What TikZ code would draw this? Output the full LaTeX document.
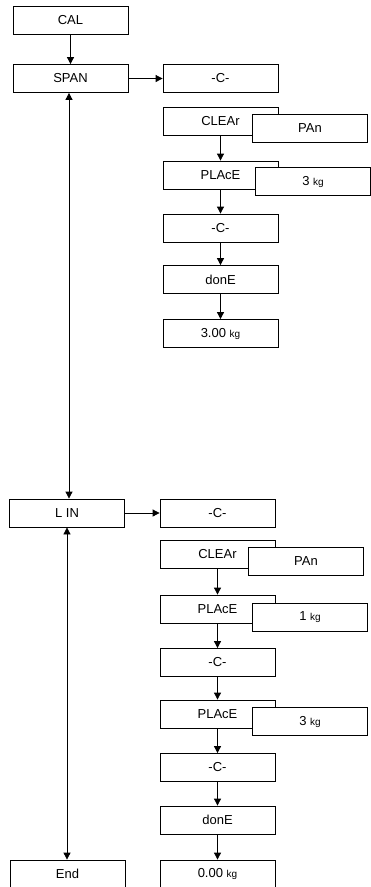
\documentclass[tikz,border=0pt]{standalone}
\usepackage{fontspec}
\setmainfont{Liberation Sans}
\usetikzlibrary{arrows.meta, positioning}
\tikzset{
  every picture/.style={line width=0.8pt},
  disp/.style={draw, fill=white, minimum width=115pt, minimum height=28pt, inner sep=0pt, font=\fontsize{13}{15}\selectfont},
  arrow/.style={-{Triangle[length=7pt, width=7pt]}},
  twoway/.style={{Triangle[length=7pt, width=7pt]}-{Triangle[length=7pt, width=7pt]}},
}
\newcommand{\kg}{\ \fontsize{10}{12}\selectfont kg}
\begin{document}
\begin{tikzpicture}[x=1pt, y=-1pt]
  \useasboundingbox (0,0) rectangle (371,887);
  % left column
  \node[disp] (cal) at (70.5,20) {CAL};
  \node[disp] (span) at (70.5,78.5) {SPAN};
  \node[disp] (lin) at (67,513) {L IN};
  \node[disp] (end) at (67.5,874) {End};
  % span sequence
  \node[disp] (sc1) at (220.5,78.5) {-C-};
  \node[disp] (sclear) at (220.5,121) {CLEAr};
  \node[disp] (span-pan) at (310,128) {PAn};
  \node[disp] (splace) at (220.5,175) {PLAcE};
  \node[disp] (sw3) at (313,181.5) {3\kg};
  \node[disp] (sc2) at (220.5,228) {-C-};
  \node[disp] (sdone) at (220.5,279.5) {donE};
  \node[disp] (sread) at (220.5,333.5) {3.00\kg};
  % lin sequence
  \node[disp] (lc1) at (217.5,513) {-C-};
  \node[disp] (lclear) at (217.5,554) {CLEAr};
  \node[disp] (lin-pan) at (306,561.5) {PAn};
  \node[disp] (lplace1) at (217.5,609) {PLAcE};
  \node[disp] (lw1) at (310,617) {1\kg};
  \node[disp] (lc2) at (217.5,662.5) {-C-};
  \node[disp] (lplace3) at (217.5,714) {PLAcE};
  \node[disp] (lw3) at (310,721.5) {3\kg};
  \node[disp] (lc3) at (217.5,767.5) {-C-};
  \node[disp] (ldone) at (217.5,820) {donE};
  \node[disp] (lread) at (217.5,874) {0.00\kg};
  % connectors
  \draw[arrow] (cal) -- (span);
  \draw[arrow] (span) -- (sc1);
  \draw[twoway] ([xshift=-1.5pt]span.south) -- ([xshift=-1.5pt]span.south |- lin.north);
  \draw[arrow] (lin) -- (lc1);
  \draw[twoway] (lin.south) -- (lin.south |- end.north);
  \draw[arrow] (sclear.south) -- (splace.north);
  \draw[arrow] (splace.south) -- (sc2.north);
  \draw[arrow] (sc2) -- (sdone);
  \draw[arrow] (sdone) -- (sread);
  \draw[arrow] (lclear.south) -- (lplace1.north);
  \draw[arrow] (lplace1.south) -- (lc2.north);
  \draw[arrow] (lc2) -- (lplace3);
  \draw[arrow] (lplace3.south) -- (lc3.north);
  \draw[arrow] (lc3) -- (ldone);
  \draw[arrow] (ldone) -- (lread);
\end{tikzpicture}
\end{document}
